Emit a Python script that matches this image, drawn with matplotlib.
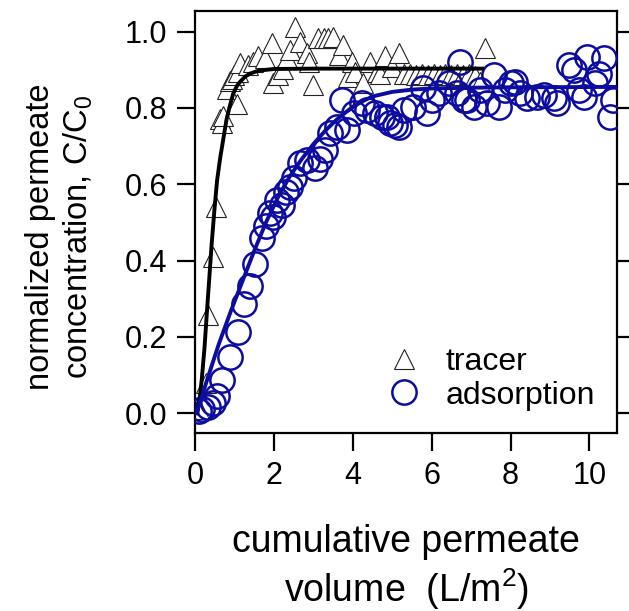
import matplotlib
matplotlib.use("Agg")
import matplotlib.pyplot as plt

plt.rcParams.update({"font.family": ["Liberation Sans", "DejaVu Sans"],
                     "mathtext.fontset": "custom",
                     "mathtext.rm": "Liberation Sans",
                     "mathtext.it": "Liberation Sans",
                     "mathtext.default": "regular"})

C_BLUE, C_BLACK = "#0c0ca0", "#000000"

# tracer data (C/C0 vs cumulative permeate volume)
tracer_x = [0.10, 0.28, 0.34, 0.45, 0.52, 0.63, 0.68, 0.72, 0.81, 0.89, 0.93, 1.00,
            1.07, 1.10, 1.14, 1.35, 1.48, 1.61, 1.78, 1.95, 1.99, 2.11, 2.24, 2.33,
            2.41, 2.54, 2.66, 2.83, 2.88, 3.00, 3.13, 3.26, 3.38, 3.51, 3.64, 3.76,
            3.89, 3.98, 4.06, 4.27, 4.44, 4.61, 4.70, 4.82, 4.99, 5.16, 5.30, 5.45,
            5.60, 5.75, 5.90, 6.05, 6.20, 6.35, 6.50, 6.65, 6.80, 6.95, 7.10, 7.23,
            7.36]
tracer_y = [0.010, 0.080, 0.257, 0.410, 0.540, 0.770, 0.760, 0.780, 0.850, 0.870, 0.877, 0.885,
            0.810, 0.895, 0.917, 0.912, 0.921, 0.935, 0.930, 0.969, 0.864, 0.886, 0.903, 0.930,
            0.951, 1.013, 0.973, 0.943, 0.921, 0.860, 0.982, 0.982, 0.982, 0.987, 0.938, 0.965,
            0.882, 0.921, 0.895, 0.864, 0.921, 0.895, 0.890, 0.935, 0.908, 0.943, 0.890, 0.888,
            0.886, 0.890, 0.887, 0.889, 0.886, 0.890, 0.887, 0.889, 0.886, 0.889, 0.884, 0.869,
            0.956]

# adsorption data
ads_x = [0.10, 0.17, 0.33, 0.46, 0.55, 0.68, 0.89, 1.08, 1.25, 1.40, 1.52, 1.70,
         1.80, 1.90, 1.97, 2.07, 2.20, 2.30, 2.41, 2.50, 2.66, 2.83, 3.05, 3.18,
         3.30, 3.43, 3.60, 3.72, 3.85, 4.02, 4.23, 4.36, 4.57, 4.74, 4.87, 4.95,
         5.08, 5.16, 5.29, 5.54, 5.79, 5.88, 6.00, 6.18, 6.43, 6.64, 6.73, 6.81,
         6.90, 7.07, 7.23, 7.40, 7.57, 7.70, 7.87, 8.00, 8.12, 8.25, 8.42, 8.67,
         8.84, 9.10, 9.18, 9.48, 9.60, 9.73, 9.86, 9.94, 10.15, 10.24, 10.37, 10.53,
         10.60]
ads_y = [0.005, 0.010, 0.016, 0.026, 0.045, 0.087, 0.147, 0.213, 0.286, 0.333, 0.390, 0.460,
         0.490, 0.524, 0.515, 0.558, 0.545, 0.580, 0.593, 0.616, 0.655, 0.663, 0.642, 0.665,
         0.689, 0.734, 0.750, 0.820, 0.742, 0.786, 0.812, 0.794, 0.786, 0.777, 0.777, 0.760,
         0.755, 0.750, 0.794, 0.803, 0.851, 0.786, 0.820, 0.838, 0.864, 0.838, 0.921, 0.820,
         0.820, 0.803, 0.847, 0.812, 0.886, 0.803, 0.847, 0.865, 0.868, 0.838, 0.825, 0.829,
         0.833, 0.825, 0.812, 0.912, 0.899, 0.847, 0.829, 0.934, 0.864, 0.890, 0.930, 0.777,
         0.820]

# fitted curves
fit_tr_x = [0.06, 0.12, 0.17, 0.24, 0.30, 0.36, 0.42, 0.49, 0.56, 0.64, 0.72, 0.80,
            0.87, 0.97, 1.06, 1.14, 1.27, 1.40, 1.56, 1.73, 2.00, 3.00, 7.28]
fit_tr_y = [0.000, 0.040, 0.087, 0.170, 0.262, 0.350, 0.440, 0.530, 0.610, 0.670, 0.720, 0.770,
            0.800, 0.838, 0.857, 0.868, 0.882, 0.890, 0.896, 0.899, 0.902, 0.903, 0.903]
fit_ads_x = [0.04, 0.30, 0.60, 0.90, 1.20, 1.50, 1.80, 2.10, 2.40, 2.70, 3.00, 3.30,
             3.60, 3.90, 4.20, 4.50, 5.00, 5.50, 6.00, 7.00, 8.00, 10.70]
fit_ads_y = [0.000, 0.085, 0.180, 0.265, 0.345, 0.425, 0.500, 0.565, 0.620, 0.665, 0.705, 0.740,
             0.770, 0.795, 0.815, 0.830, 0.842, 0.848, 0.851, 0.853, 0.854, 0.855]

fig = plt.figure(figsize=(6.29, 6.11), dpi=100)
ax = fig.add_axes([195 / 629, 1 - 433 / 611, 422 / 629, 422 / 611])

ax.plot(tracer_x, tracer_y, linestyle="none", marker="^", markersize=14.5,
        markerfacecolor="white", markeredgecolor="#222222", markeredgewidth=0.8,
        label="tracer", zorder=2)
ax.plot(ads_x, ads_y, linestyle="none", marker="o", markersize=17.5,
        markerfacecolor="none", markeredgecolor=C_BLUE, markeredgewidth=1.8,
        label="adsorption", zorder=3)
ax.plot(fit_tr_x, fit_tr_y, color=C_BLACK, linewidth=2.8, zorder=4)
ax.plot(fit_ads_x, fit_ads_y, color=C_BLUE, linewidth=2.8, zorder=5)

ax.set_xlim(0, 10.7)
ax.set_ylim(-0.052, 1.054)
ax.set_xticks([0, 2, 4, 6, 8, 10])
ax.set_yticks([0.0, 0.2, 0.4, 0.6, 0.8, 1.0])
ax.set_yticklabels(["0.0", "0.2", "0.4", "0.6", "0.8", "1.0"])
for sp in ax.spines.values():
    sp.set_linewidth(1.6)
ax.tick_params(axis="both", direction="out", length=13, width=1.6,
               labelsize=22, pad=7)
ax.tick_params(axis="y", right=True)

leg = ax.legend(loc="lower right", frameon=False, fontsize=23,
                handletextpad=0.7, labelspacing=0.1, borderaxespad=0.3,
                handlelength=1.2)

fig.text(60 / 629, 1 - 237 / 611,
         "normalized permeate\nconcentration, C/C$_0$",
         rotation=90, ha="center", va="center", fontsize=23.5)
fig.text(406 / 629, 1 - 568 / 611,
         "cumulative permeate\nvolume  (L/m$^2$)",
         ha="center", va="center", fontsize=27)

fig.savefig("out.png", dpi=100)
